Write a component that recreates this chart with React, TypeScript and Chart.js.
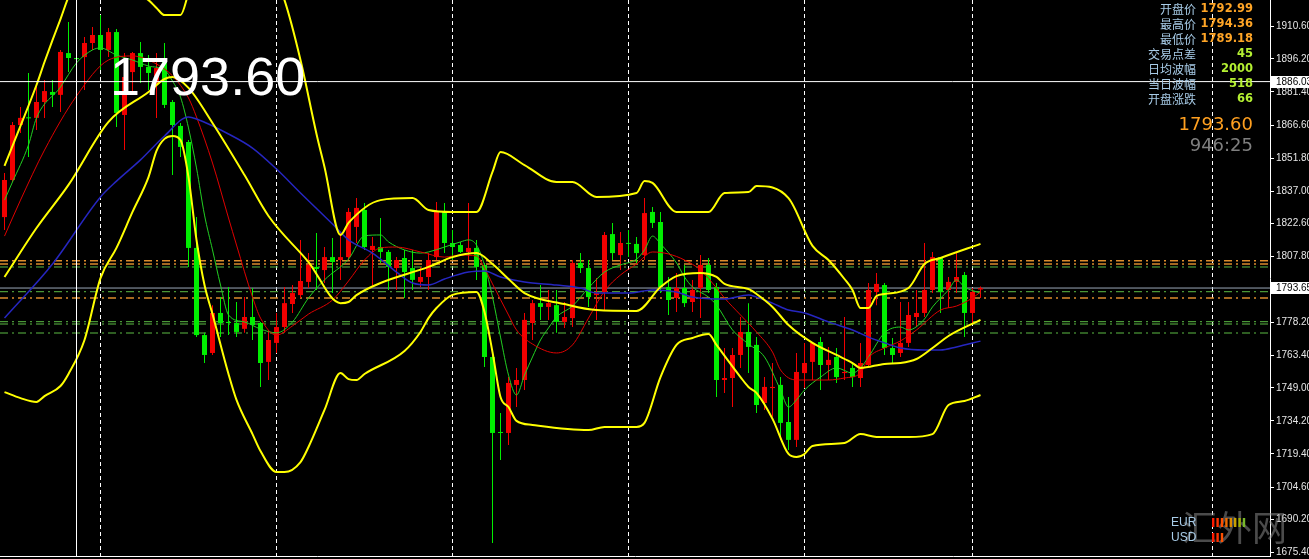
import React, { useEffect, useRef } from 'react';
import { Chart, registerables } from 'chart.js';

Chart.register(...registerables);

// ---- Candles (index 0..122) ----
const opens = [
  1825.4, 1842.0, 1866.6, 1870.0, 1869.8, 1876.9, 1881.4, 1880.1, 1898.8, 1896.6,
  1897.0, 1903.3, 1906.9, 1900.2, 1908.2, 1871.1, 1890.3, 1898.8, 1892.6, 1885.4,
  1894.8, 1876.9, 1866.2, 1859.0, 1811.6, 1772.6, 1764.6, 1782.5, 1778.5, 1778.0,
  1775.4, 1780.7, 1778.0, 1760.6, 1769.1, 1776.2, 1786.5, 1790.5, 1796.4, 1803.1,
  1801.7, 1807.5, 1806.2, 1807.5, 1821.0, 1828.6, 1810.7, 1812.0, 1809.8, 1802.6,
  1807.1, 1802.6, 1796.4, 1798.6, 1807.5, 1827.7, 1813.8, 1812.9, 1809.8, 1811.6,
  1804.0, 1762.8, 1729.2, 1728.8, 1750.3, 1752.5, 1778.0, 1786.9, 1785.2, 1786.0,
  1778.5, 1780.2, 1804.9, 1802.6, 1790.5, 1791.9, 1817.8, 1808.4, 1813.8, 1813.4,
  1808.4, 1827.7, 1823.2, 1794.1, 1789.2, 1793.7, 1787.4, 1793.7, 1804.0, 1794.1,
  1752.5, 1753.4, 1763.7, 1774.0, 1768.2, 1742.2, 1748.9, 1750.3, 1733.7, 1725.7,
  1755.6, 1760.6, 1769.5, 1759.2, 1762.8, 1755.6, 1757.9, 1753.4, 1759.2, 1791.9,
  1795.0, 1766.8, 1764.6, 1769.1, 1780.7, 1782.5, 1792.8, 1807.5, 1792.8, 1796.4,
  1799.5, 1782.5, 1792.99,
];
const highs = [
  1845.1, 1868.0, 1874.7, 1889.9, 1883.6, 1886.7, 1886.7, 1900.2, 1912.7, 1903.8,
  1906.0, 1910.5, 1915.8, 1910.0, 1909.6, 1898.8, 1899.3, 1903.8, 1897.9, 1898.8,
  1903.3, 1877.8, 1867.5, 1859.9, 1825.4, 1773.6, 1786.0, 1789.6, 1794.1, 1787.4,
  1789.6, 1793.7, 1778.5, 1774.9, 1782.5, 1794.1, 1795.0, 1815.2, 1809.3, 1818.3,
  1812.0, 1816.1, 1818.3, 1829.5, 1833.9, 1831.7, 1816.5, 1825.0, 1810.7, 1807.5,
  1810.7, 1810.7, 1803.1, 1809.3, 1832.2, 1831.7, 1819.6, 1814.3, 1831.7, 1815.2,
  1804.9, 1765.9, 1737.7, 1753.8, 1757.9, 1782.5, 1788.3, 1795.0, 1792.8, 1792.8,
  1787.4, 1806.2, 1809.3, 1806.2, 1798.2, 1818.7, 1822.8, 1818.7, 1819.6, 1816.5,
  1833.9, 1829.9, 1827.7, 1798.6, 1800.4, 1804.0, 1797.3, 1808.4, 1807.1, 1795.9,
  1766.8, 1766.8, 1780.7, 1786.9, 1771.7, 1753.8, 1760.1, 1753.8, 1744.9, 1764.6,
  1769.1, 1769.5, 1771.7, 1767.3, 1766.8, 1780.7, 1760.6, 1769.1, 1795.9, 1800.4,
  1795.9, 1771.3, 1787.4, 1787.4, 1792.8, 1813.8, 1809.8, 1807.5, 1798.6, 1809.3,
  1800.8, 1793.7, 1794.36,
];
const lows = [
  1819.6, 1841.1, 1863.0, 1852.3, 1864.4, 1869.8, 1874.7, 1872.4, 1890.3, 1886.7,
  1882.3, 1900.2, 1891.2, 1897.0, 1865.7, 1855.4, 1881.4, 1885.4, 1882.3, 1869.8,
  1874.2, 1844.2, 1852.3, 1803.1, 1771.7, 1760.1, 1763.7, 1771.7, 1772.6, 1771.7,
  1773.6, 1770.4, 1749.4, 1752.5, 1764.6, 1773.6, 1782.5, 1789.2, 1793.7, 1792.8,
  1795.9, 1791.4, 1797.3, 1806.2, 1813.8, 1810.7, 1794.1, 1804.9, 1792.8, 1792.8,
  1789.2, 1792.8, 1794.1, 1792.8, 1806.2, 1809.3, 1806.2, 1809.3, 1806.2, 1797.3,
  1758.3, 1679.6, 1716.7, 1723.4, 1740.4, 1748.0, 1770.4, 1779.4, 1779.4, 1773.6,
  1775.8, 1776.2, 1800.4, 1785.2, 1779.4, 1783.8, 1806.2, 1801.7, 1807.5, 1804.9,
  1806.2, 1820.5, 1791.4, 1781.6, 1782.9, 1785.2, 1782.9, 1780.2, 1791.4, 1744.9,
  1746.7, 1740.4, 1757.9, 1755.6, 1737.7, 1739.1, 1736.0, 1725.7, 1721.2, 1722.5,
  1748.9, 1752.5, 1748.0, 1752.5, 1751.2, 1752.5, 1749.4, 1749.4, 1758.3, 1786.0,
  1763.7, 1760.1, 1762.8, 1767.3, 1776.2, 1780.7, 1791.4, 1782.5, 1784.7, 1791.4,
  1771.7, 1778.0, 1789.18,
];
const closes = [
  1842.0, 1866.6, 1869.8, 1869.6, 1876.9, 1881.8, 1880.1, 1899.3, 1896.6, 1896.1,
  1903.3, 1906.9, 1900.2, 1908.2, 1872.0, 1888.1, 1898.8, 1892.6, 1889.9, 1892.1,
  1875.6, 1866.6, 1856.8, 1811.6, 1772.6, 1763.7, 1782.5, 1778.0, 1778.0, 1774.0,
  1780.7, 1777.1, 1760.1, 1770.4, 1776.2, 1786.9, 1791.4, 1796.8, 1804.0, 1802.2,
  1807.5, 1805.3, 1807.5, 1827.7, 1829.5, 1812.0, 1812.5, 1809.8, 1803.1, 1806.2,
  1800.8, 1797.3, 1798.6, 1806.2, 1827.7, 1813.8, 1812.0, 1809.8, 1811.6, 1803.1,
  1762.8, 1728.8, 1728.8, 1751.2, 1752.5, 1779.4, 1786.9, 1785.2, 1786.9, 1778.5,
  1780.7, 1804.9, 1802.6, 1789.6, 1791.4, 1817.4, 1809.3, 1813.8, 1813.4, 1809.3,
  1827.2, 1822.8, 1794.1, 1788.3, 1793.7, 1786.9, 1792.8, 1804.0, 1792.8, 1752.5,
  1753.4, 1763.7, 1774.0, 1767.3, 1741.3, 1749.4, 1749.4, 1733.3, 1725.7, 1756.1,
  1760.1, 1769.1, 1759.2, 1761.5, 1753.8, 1756.1, 1753.8, 1760.1, 1792.8, 1795.5,
  1766.8, 1763.7, 1769.1, 1781.6, 1782.5, 1792.8, 1807.5, 1791.9, 1796.4, 1798.6,
  1782.5, 1791.9, 1793.60,
];

// ---- Indicators: [candle index, price] ----
const bbUpper: [number, number][] = [
  [0, 1848.3], [2, 1866.2], [4, 1884.5], [5, 1894.8], [6, 1904.6], [7, 1914.0], [8, 1923.9], [9, 1930.6],
  [12, 1928.0], [15, 1927.5], [18, 1922.5], [19, 1919.0], [20, 1915.8], [22, 1915.8], [23, 1925.7],
  [25, 1949.0], [28, 1955.6], [31, 1945.0], [34, 1930.6], [35, 1922.5], [37, 1895.7], [39, 1862.6],
  [40, 1847.8], [42, 1817.4], [43, 1822.8], [47, 1833.0], [51, 1833.9], [53, 1828.6], [56, 1827.7],
  [59, 1827.7], [61, 1845.6], [62, 1854.5], [65, 1848.7], [69, 1841.1], [71, 1841.1], [74, 1834.4],
  [79, 1836.2], [80, 1841.5], [81, 1840.7], [84, 1827.7], [88, 1827.7], [90, 1836.2], [93, 1836.6],
  [94, 1839.3], [98, 1833.9], [101, 1812.5], [103, 1806.2], [105, 1797.7], [106, 1792.8], [107, 1784.7],
  [108, 1784.7], [109, 1790.1], [110, 1791.0], [113, 1793.7], [115, 1804.4], [117, 1807.1], [122, 1813.4],
];
const bbMiddle: [number, number][] = [
  [0, 1798.6], [4, 1820.5], [8, 1839.8], [13, 1868.0], [18, 1881.4], [20, 1887.2], [21, 1888.1],
  [23, 1883.2], [26, 1867.5], [30, 1844.2], [33, 1825.9], [38, 1805.3], [42, 1786.9], [43, 1787.4],
  [44, 1790.5], [47, 1795.9], [53, 1803.1], [56, 1807.5], [59, 1809.3], [61, 1804.4], [63, 1797.7],
  [65, 1791.4], [70, 1786.5], [74, 1783.8], [79, 1783.4], [82, 1794.1], [84, 1799.0], [87, 1800.4],
  [89, 1798.6], [90, 1795.5], [93, 1793.2], [94, 1791.0], [96, 1785.2], [98, 1777.1], [101, 1769.1],
  [104, 1763.7], [106, 1760.1], [107, 1757.9], [110, 1759.7], [112, 1760.1], [114, 1761.9],
  [116, 1766.8], [118, 1772.2], [122, 1779.4],
];
const bbLower: [number, number][] = [
  [0, 1747.1], [2, 1744.4], [4, 1742.7], [5, 1745.3], [7, 1749.8], [8, 1755.2], [10, 1770.4],
  [12, 1798.1], [14, 1811.6], [16, 1827.7], [18, 1843.3], [19, 1855.0], [20, 1860.4], [21, 1861.7],
  [22, 1859.9], [23, 1843.3], [24, 1815.2], [25, 1795.0], [26, 1782.0], [28, 1755.2], [29, 1743.6],
  [31, 1728.3], [32, 1720.7], [34, 1711.3], [35, 1711.3], [37, 1715.8], [38, 1722.5], [40, 1739.1],
  [42, 1755.6], [43, 1752.9], [44, 1752.5], [45, 1755.2], [50, 1765.5], [52, 1774.0], [53, 1780.2],
  [54, 1784.7], [56, 1790.6], [59, 1791.9], [60, 1782.9], [61, 1765.0], [62, 1744.9], [63, 1740.4],
  [64, 1734.2], [66, 1732.4], [73, 1730.1], [75, 1731.5], [79, 1731.5], [80, 1733.3], [82, 1753.8],
  [84, 1768.2], [86, 1771.3], [88, 1773.1], [89, 1768.2], [92, 1753.8], [93, 1749.4], [94, 1746.7],
  [96, 1735.1], [98, 1719.4], [99, 1718.0], [100, 1719.4], [101, 1723.0], [105, 1724.3], [107, 1728.3],
  [109, 1727.0], [113, 1727.0], [116, 1728.3], [118, 1741.3], [120, 1743.1], [122, 1745.8],
];
const maSlow: [number, number][] = [
  [0, 1780.2], [6, 1804.4], [12, 1834.4], [14, 1841.5], [17, 1851.0], [20, 1861.7], [23, 1870.2],
  [24, 1869.3], [28, 1862.6], [31, 1856.3], [34, 1846.9], [37, 1836.2], [41, 1822.3], [43, 1815.2],
  [46, 1809.3], [49, 1800.8], [51, 1795.9], [53, 1795.0], [55, 1797.7], [58, 1800.8], [60, 1801.3],
  [62, 1798.6], [65, 1796.4], [69, 1795.0], [72, 1793.7], [74, 1791.4], [78, 1791.4], [81, 1792.8],
  [84, 1791.9], [86, 1789.6], [90, 1788.7], [93, 1790.5], [94, 1789.6], [96, 1786.9], [98, 1783.8],
  [100, 1782.5], [103, 1778.5], [106, 1774.9], [108, 1771.7], [110, 1769.1], [112, 1766.8],
  [115, 1765.9], [117, 1765.9], [119, 1767.3], [122, 1769.9],
];
const maMid: [number, number][] = [
  [0, 1816.9], [2, 1833.0], [5, 1855.4], [9, 1879.6], [13, 1895.7], [16, 1897.5], [19, 1893.9],
  [21, 1888.6], [23, 1878.7], [24, 1870.2], [26, 1849.6], [28, 1825.0], [29, 1812.9], [31, 1789.6],
  [32, 1780.2], [34, 1772.6], [36, 1776.7], [38, 1782.0], [41, 1788.3], [43, 1796.8], [45, 1806.2],
  [47, 1811.6], [49, 1812.0], [52, 1809.8], [55, 1807.5], [57, 1808.4], [59, 1808.0], [60, 1802.6],
  [61, 1795.5], [63, 1781.6], [64, 1774.9], [66, 1768.6], [69, 1764.6], [71, 1768.2], [73, 1780.2],
  [75, 1792.3], [77, 1799.5], [79, 1804.4], [81, 1809.8], [83, 1808.9], [85, 1806.2], [87, 1801.7],
  [89, 1793.7], [90, 1789.2], [92, 1781.6], [94, 1774.0], [96, 1765.0], [97, 1757.0], [99, 1752.5],
  [103, 1752.5], [105, 1753.4], [107, 1755.6], [108, 1762.4], [110, 1766.8], [112, 1770.0],
  [114, 1774.9], [117, 1783.8], [119, 1785.6], [121, 1789.2], [122, 1791.9],
];
const maFast: [number, number][] = [
  [0, 1833.0], [1, 1841.1], [3, 1857.7], [4, 1869.8], [7, 1883.6], [9, 1894.4], [11, 1900.2],
  [12, 1901.1], [14, 1897.9], [16, 1895.7], [18, 1893.0], [20, 1891.2], [21, 1886.3], [22, 1879.1],
  [23, 1865.3], [24, 1847.4], [25, 1826.3], [26, 1810.7], [27, 1795.0], [28, 1781.6], [30, 1778.5],
  [32, 1775.3], [34, 1773.6], [36, 1778.5], [38, 1789.2], [40, 1797.3], [43, 1806.6], [45, 1817.0],
  [47, 1817.4], [48, 1814.3], [50, 1810.7], [52, 1809.3], [53, 1809.8], [55, 1812.0], [57, 1814.3],
  [58, 1815.2], [59, 1812.9], [60, 1804.0], [61, 1789.6], [62, 1771.7], [63, 1754.7], [64, 1745.8],
  [65, 1754.7], [66, 1762.8], [67, 1770.4], [68, 1775.8], [69, 1780.7], [71, 1785.6], [73, 1793.7],
  [75, 1800.8], [77, 1804.0], [79, 1806.6], [80, 1810.7], [81, 1816.9], [82, 1813.4], [84, 1804.9],
  [85, 1798.6], [86, 1794.1], [88, 1789.6], [89, 1786.0], [91, 1774.9], [93, 1768.6], [95, 1762.8],
  [97, 1748.0], [98, 1740.4], [99, 1743.6], [100, 1748.0], [102, 1753.8], [104, 1757.9], [106, 1755.6],
  [107, 1757.9], [108, 1762.8], [110, 1773.6], [112, 1776.2], [113, 1774.9], [115, 1779.8],
  [116, 1785.2], [118, 1792.8], [119, 1797.3], [120, 1794.1], [122, 1791.4],
];

// ---- Levels, axis, texts ----
const levelPrices = [1805.89, 1804.41, 1803.07, 1792.01, 1789.18, 1778.59, 1777.56, 1773.53];
const levelKinds = ['pivot', 'pivot', 'band', 'band', 'pivot', 'band', 'band', 'band'];
const currentPrice = 1793.65;
const crossPrice = 1886.03;
const crossIndex = 9;
const gridIndices = [12, 34, 56, 78, 100, 121, 151];
const yTickValues = [1910.6, 1896.2, 1881.4, 1866.6, 1851.8, 1837.0, 1822.6, 1807.8, 1778.2, 1763.4, 1749.0, 1734.2, 1719.4, 1704.6, 1690.2, 1675.4];
const infoLabels = ['开盘价', '最高价', '最低价', '交易点差', '日均波幅', '当日波幅', '开盘涨跌'];
const infoValues = ['1792.99', '1794.36', '1789.18', '45', '2000', '518', '66'];
const bidText = '1793.60';
const timerText = '946:25';
const bigPriceText = '1793.60';
const currencyNames = ['EUR', 'USD'];
const currencyStrength = [8, 3];
const watermark = '汇外网';

const X_MIN = -0.5625;
const X_MAX = 158.1875;
const Y_MIN = 1673.74;
const Y_MAX = 1922.55;

const UP = '#f20000';
const DOWN = '#00ee00';
const strengthColors = ['#ff1a00', '#ff3300', '#ff5000', '#f06c00', '#e08a00', '#c8a000', '#a4b400', '#78b82a'];

export default function App() {
  const ref = useRef<HTMLCanvasElement>(null);

  useEffect(() => {
    document.body.style.margin = '0';
    document.body.style.background = '#000';
    const canvas = ref.current as HTMLCanvasElement;
    const idx = opens.map((_, i) => i);
    const colorOf = (i: number) => (closes[i] >= opens[i] ? UP : DOWN);
    const pts = (a: [number, number][]) => a.map(([x, y]) => ({ x, y }));
    const lineDs = (a: [number, number][], color: string, width: number, order: number) => ({
      type: 'line',
      data: pts(a),
      borderColor: color,
      borderWidth: width,
      pointRadius: 0,
      fill: false,
      cubicInterpolationMode: 'monotone',
      order,
    });
    const hLine = (p: number, color: string, width: number, dash: number[], order: number) => ({
      type: 'line',
      data: [{ x: X_MIN, y: p }, { x: X_MAX, y: p }],
      borderColor: color,
      borderWidth: width,
      borderDash: dash,
      pointRadius: 0,
      fill: false,
      order,
    });

    const datasets: any[] = [
      { type: 'line', data: [{ x: crossIndex, y: Y_MIN }, { x: crossIndex, y: Y_MAX }], borderColor: '#ffffff', borderWidth: 1, pointRadius: 0, order: 0 },
      hLine(crossPrice, '#ffffff', 1, [], 0),
      lineDs(bbUpper, '#ffff00', 2, 1),
      lineDs(bbMiddle, '#ffff00', 2, 1),
      lineDs(bbLower, '#ffff00', 2, 1),
      lineDs(maSlow, '#2626c0', 1.5, 2),
      lineDs(maMid, '#e00000', 1, 3),
      lineDs(maFast, '#22d022', 1, 4),
      {
        type: 'bar',
        data: idx.map((i) => ({ x: i, y: [opens[i], closes[i]] })),
        backgroundColor: idx.map(colorOf),
        barThickness: 5,
        minBarLength: 1,
        grouped: false,
        inflateAmount: 0,
        borderWidth: 0,
        order: 5,
      },
      {
        type: 'bar',
        data: idx.map((i) => ({ x: i, y: [lows[i], highs[i]] })),
        backgroundColor: idx.map(colorOf),
        barThickness: 1,
        grouped: false,
        inflateAmount: 0,
        borderWidth: 0,
        order: 6,
      },
      ...levelPrices.map((p, k) =>
        hLine(p, levelKinds[k] === 'pivot' ? '#dc8c2c' : '#5cbc44', levelKinds[k] === 'pivot' ? 1.5 : 1, [8, 4, 2, 4], 7)
      ),
      hLine(currentPrice, '#9aa8b8', 1, [], 7),
    ];

    const overlay = {
      id: 'overlay',
      beforeDraw(c: any) {
        const ctx = c.ctx;
        ctx.save();
        ctx.fillStyle = '#000';
        ctx.fillRect(0, 0, c.width, c.height);
        ctx.restore();
      },
      afterDraw(c: any) {
        const ctx = c.ctx;
        const ys = c.scales.y;
        const area = c.chartArea;
        ctx.save();
        // watermark
        ctx.font = '35px "Noto Sans CJK SC"';
        ctx.fillStyle = 'rgba(150,150,150,0.5)';
        ctx.textAlign = 'left';
        ctx.textBaseline = 'middle';
        ctx.fillText(watermark, 1182, 528);
        // price boxes
        for (const p of [crossPrice, currentPrice]) {
          const py = Math.round(ys.getPixelForValue(p));
          ctx.fillStyle = '#ffffff';
          ctx.fillRect(area.right + 1, py - 6, 40, 12);
          ctx.fillStyle = '#000000';
          ctx.font = '10px "Liberation Sans"';
          ctx.textAlign = 'left';
          ctx.textBaseline = 'middle';
          ctx.fillText(p.toFixed(2), area.right + 6, py);
        }
        // big price
        ctx.fillStyle = '#ffffff';
        ctx.font = '54px "Liberation Sans"';
        ctx.textAlign = 'left';
        ctx.textBaseline = 'alphabetic';
        ctx.fillText(bigPriceText, 110, 95);
        // info panel
        ctx.textBaseline = 'middle';
        infoLabels.forEach((lab, k) => {
          const yy = 9 + 15 * k;
          ctx.textAlign = 'right';
          ctx.font = '12px "Noto Sans CJK SC"';
          ctx.fillStyle = '#a8cce8';
          ctx.fillText(lab, 1196, yy);
          ctx.font = 'bold 11.5px "DejaVu Sans"';
          ctx.fillStyle = k < 3 ? '#ffa526' : '#b4f032';
          ctx.fillText(infoValues[k], 1253, yy);
        });
        ctx.font = '18px "DejaVu Sans"';
        ctx.fillStyle = '#ffa020';
        ctx.fillText(bidText, 1253, 125);
        ctx.fillStyle = '#7f7f7f';
        ctx.fillText(timerText, 1253, 146);
        // currency strength
        currencyNames.forEach((name, r) => {
          const cy = 522.5 + 15 * r;
          ctx.textAlign = 'left';
          ctx.font = '12px "Liberation Sans"';
          ctx.fillStyle = '#a8cce8';
          ctx.fillText(name, 1171, cy);
          for (let b = 0; b < currencyStrength[r]; b++) {
            ctx.fillStyle = strengthColors[b];
            ctx.fillRect(1212 + b * 4.4, cy - 4.5, 2.4, 9);
          }
        });
        ctx.restore();
      },
    };

    const chart = new Chart(canvas, {
      type: 'bar',
      data: { datasets },
      options: {
        animation: false,
        responsive: false,
        events: [],
        layout: { padding: { left: 0, top: 0, right: 0, bottom: 3 } },
        plugins: { legend: { display: false }, tooltip: { enabled: false } },
        scales: {
          x: {
            type: 'linear',
            min: X_MIN,
            max: X_MAX,
            bounds: 'data',
            offset: false,
            grid: { display: true, color: '#ffffff', lineWidth: 1, drawOnChartArea: true, drawTicks: false, offset: false },
            border: { display: true, color: '#ffffff', dash: [4, 3] },
            ticks: { display: false },
            afterBuildTicks: (s: any) => {
              s.ticks = gridIndices.map((v) => ({ value: v }));
            },
            afterFit: (s: any) => {
              s.height = 0;
              s.paddingLeft = 0;
              s.paddingRight = 0;
            },
          },
          y: {
            type: 'linear',
            position: 'right',
            min: Y_MIN,
            max: Y_MAX,
            bounds: 'data',
            beginAtZero: false,
            grid: { drawOnChartArea: false, drawTicks: true, tickLength: 4, color: '#ffffff' },
            border: { display: true, color: '#ffffff' },
            ticks: {
              autoSkip: false,
              padding: 2,
              color: '#e6e6e6',
              font: { family: 'Liberation Sans', size: 10 },
              callback: (v: any) => Number(v).toFixed(2),
            },
            afterBuildTicks: (s: any) => {
              s.ticks = yTickValues.map((v) => ({ value: v }));
            },
            afterFit: (s: any) => {
              s.width = 39;
              s.paddingTop = 0;
              s.paddingBottom = 0;
            },
          },
        },
      } as any,
      plugins: [overlay],
    } as any);

    return () => chart.destroy();
  }, []);

  return (
    <div style={{ position: 'absolute', left: 0, top: 0, width: 1309, height: 559, background: '#000' }}>
      <canvas ref={ref} width={1309} height={559} style={{ display: 'block', width: 1309, height: 559 }} />
    </div>
  );
}
